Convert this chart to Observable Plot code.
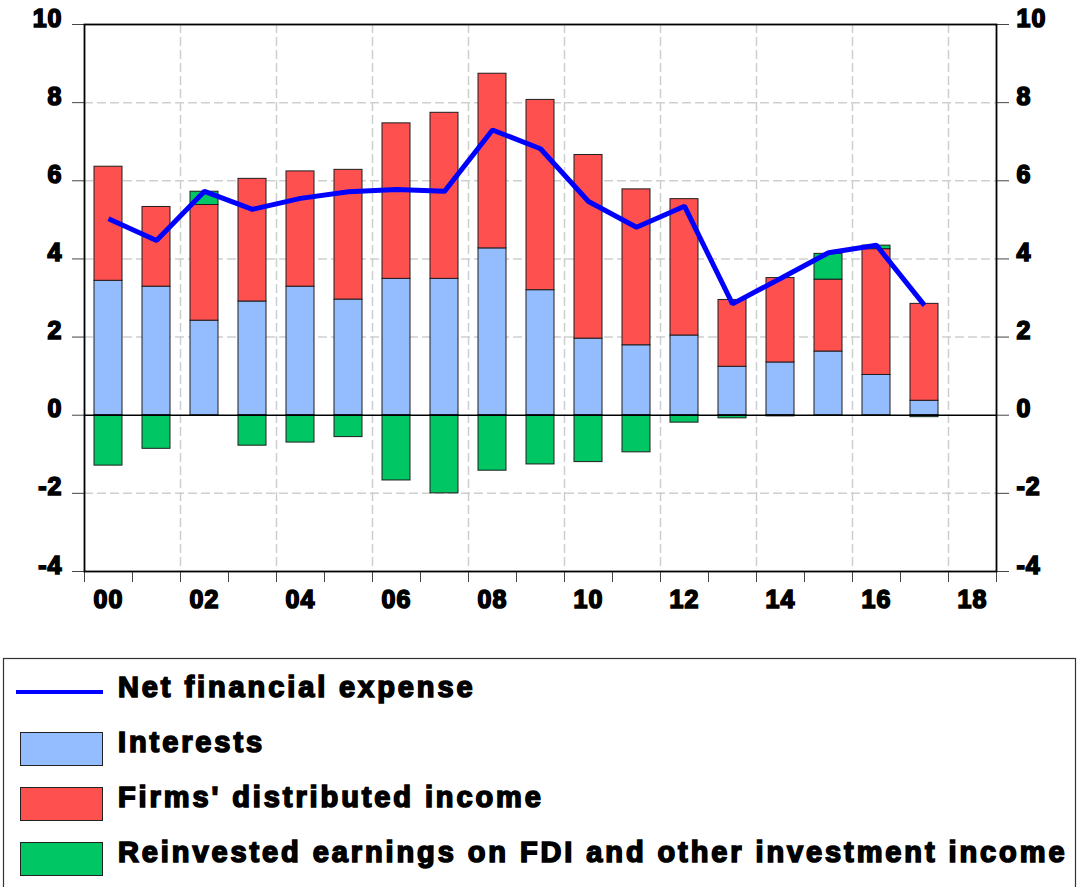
<!DOCTYPE html>
<html>
<head>
<meta charset="utf-8">
<script src="https://cdn.jsdelivr.net/npm/d3@7"></script>
<script src="https://cdn.jsdelivr.net/npm/@observablehq/plot@0.6"></script>
<style>
  html, body { margin: 0; padding: 0; background: #fff; width: 1078px; height: 887px; overflow: hidden; }
  #page { position: relative; width: 1078px; height: 887px; }
  #chart svg text { stroke: #000; stroke-width: 1.6px; paint-order: stroke; letter-spacing: 1px; }
  #legend { position: absolute; left: 0; top: 0; }
  #legend text { stroke: #000; stroke-width: 1.6px; paint-order: stroke; }
</style>
</head>
<body>
<div id="page"><div id="chart"></div></div>
<script>
// ---------- data ----------
const years = [2000, 2001, 2002, 2003, 2004, 2005, 2006, 2007, 2008, 2009, 2010, 2011, 2012, 2013, 2014, 2015, 2016, 2017];
const interests   = [3.44, 3.29, 2.42, 2.91, 3.29, 2.96, 3.49, 3.49, 4.27, 3.20, 1.96, 1.79, 2.04, 1.24, 1.35, 1.63, 1.03, 0.37];
const distributed = [2.92, 2.04, 2.96, 3.14, 2.95, 3.32, 3.98, 4.25, 4.47, 4.87, 4.70, 3.99, 3.49, 1.71, 2.16, 1.84, 3.22, 2.48];
const reinvested  = [-1.29, -0.86, 0.34, -0.78, -0.70, -0.56, -1.67, -2.00, -1.42, -1.26, -1.20, -0.95, -0.19, -0.08, -0.03, 0.66, 0.09, -0.05];
const netExpense  = [5.03, 4.47, 5.73, 5.27, 5.55, 5.72, 5.78, 5.73, 7.30, 6.82, 5.47, 4.81, 5.35, 2.85, 3.50, 4.16, 4.35, 2.81];

const lineName = "Net financial expense";
const seriesNames = ["Interests", "Firms' distributed income", "Reinvested earnings on FDI and other investment income"];
const seriesColors = ["#94bdff", "#ff5050", "#00c763"];
const lineColor = "#0000ff";

const yTicks = [-4, -2, 0, 2, 4, 6, 8, 10];
const xTickYears = [2000, 2001, 2002, 2003, 2004, 2005, 2006, 2007, 2008, 2009, 2010, 2011, 2012, 2013, 2014, 2015, 2016, 2017, 2018, 2019];
const xLabelYears = [2000, 2002, 2004, 2006, 2008, 2010, 2012, 2014, 2016, 2018];

// ---------- tables ----------
const seriesValues = [interests, distributed, reinvested];
const bars = years.flatMap((year, i) => seriesNames.map((s, k) => ({year, series: s, value: seriesValues[k][i]})));
const netRows = years.map((year, i) => ({year, value: netExpense[i]}));

const font = "'Liberation Sans', Arial, Helvetica, sans-serif";
const gridStyle = {stroke: "#cfcfcf", strokeOpacity: 1, strokeWidth: 1.5, strokeDasharray: "9,4"};
const fmtY = d => String(d);

const chart = Plot.plot({
  width: 1078,
  height: 625,
  marginLeft: 84,
  marginRight: 82,
  marginTop: 24,
  marginBottom: 54,
  style: {fontFamily: font, fontSize: "25px", fontWeight: "bold", color: "#000", background: "#fff", overflow: "visible"},
  x: {type: "linear", domain: [2000, 2019], label: null},
  y: {domain: [-4, 10], label: null},
  color: {domain: seriesNames, range: seriesColors},
  marks: [
    Plot.gridY(yTicks.filter(d => d !== 0 && d !== 10 && d !== -4), gridStyle),
    Plot.gridX(xLabelYears.filter(d => d !== 2000), gridStyle),
    Plot.rect(bars, Plot.stackY({
      x1: "year", x2: d => d.year + 1, y: "value", fill: "series",
      order: seriesNames, insetLeft: 10, insetRight: 10,
      stroke: "#1e1e1e", strokeWidth: 1
    })),
    Plot.ruleY([0], {stroke: "#000", strokeWidth: 1.5}),
    Plot.line(netRows, {x: d => d.year + 0.5, y: "value", stroke: lineColor, strokeWidth: 5, strokeLinejoin: "miter", strokeLinecap: "butt"}),
    // tick marks
    Plot.axisY(yTicks, {anchor: "left", tickSize: 12, stroke: "#444", tickFormat: () => ""}),
    Plot.axisY(yTicks, {anchor: "right", tickSize: 12, stroke: "#444", tickFormat: () => ""}),
    // tick labels, sitting slightly above their ticks
    Plot.axisY(yTicks, {anchor: "left", tickSize: 0, tickPadding: 22, dy: -6, tickFormat: fmtY}),
    Plot.axisY(yTicks, {anchor: "right", tickSize: 0, tickPadding: 20, dy: -6, tickFormat: fmtY}),
    Plot.axisX(xTickYears, {anchor: "bottom", tickSize: 11, stroke: "#444", tickFormat: () => ""}),
    Plot.axisX(xLabelYears.map(y => y + 0.5), {anchor: "bottom", tickSize: 0, tickPadding: 19, tickFormat: d => String(Math.floor(d) % 100).padStart(2, "0")}),
    Plot.frame({stroke: "#000", strokeWidth: 1.8})
  ]
});
document.getElementById("chart").appendChild(chart);

// ---------- legend (below the chart) ----------
const legend = d3.select("#page").append("svg")
  .attr("id", "legend")
  .attr("width", 1078).attr("height", 887)
  .style("pointer-events", "none");
legend.append("rect")
  .attr("x", 3.5).attr("y", 658.5).attr("width", 1072).attr("height", 260)
  .attr("fill", "none").attr("stroke", "#333").attr("stroke-width", 1.2);
const rowBase = [697, 752, 807, 862];
legend.append("line")
  .attr("x1", 16).attr("x2", 103).attr("y1", 692).attr("y2", 692)
  .attr("stroke", lineColor).attr("stroke-width", 4);
seriesNames.forEach((s, k) => {
  legend.append("rect")
    .attr("x", 20.5).attr("y", rowBase[k + 1] - 19.5).attr("width", 82).attr("height", 33)
    .attr("fill", seriesColors[k]).attr("stroke", "#222").attr("stroke-width", 1);
});
[lineName, ...seriesNames].forEach((label, k) => {
  legend.append("text")
    .attr("x", 118).attr("y", rowBase[k])
    .attr("font-family", font).attr("font-weight", "bold").attr("font-size", 29)
    .attr("letter-spacing", "2.9px")
    .attr("fill", "#000")
    .text(label);
});
</script>
</body>
</html>
